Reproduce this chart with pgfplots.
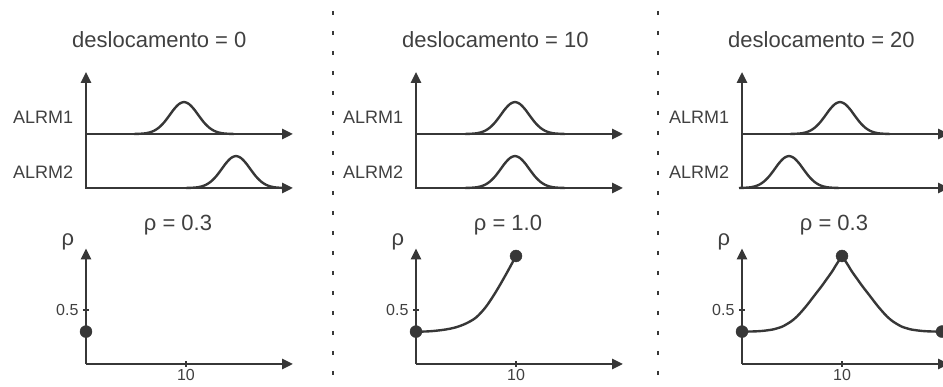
\documentclass[border=0pt]{standalone}
\usepackage{fontspec}
\setmainfont{Liberation Sans}
\usepackage{pgfplots}
\pgfplotsset{compat=1.18}
\usepackage{pgfplotstable}
\usetikzlibrary{arrows.meta}
\definecolor{lc}{RGB}{55,55,55}
\definecolor{tc}{RGB}{64,64,64}

% Gaussian alarm pulse shape (offset from centre, height)
\pgfplotstableread{
d g
-5 0
-4.5 0.2
-4 0.5
-3.5 1.4
-3 3.2
-2.5 6.5
-2 11.5
-1.5 18.0
-1 24.8
-0.5 30.0
0 32
0.5 30.0
1 24.8
1.5 18.0
2 11.5
2.5 6.5
3 3.2
3.5 1.4
4 0.5
4.5 0.2
5 0
}\pulse

% rho curve for shift = 10
\pgfplotstableread{
x r
0 0.300
1 0.301
2 0.308
3 0.320
4 0.340
5 0.375
6 0.430
7 0.530
8 0.670
9 0.830
10 1.000
}\rhoten

% rho curve for shift = 20 (left half; right half mirrored about 10)
\pgfplotstableread{
x r
0 0.300
1 0.301
2 0.306
3 0.318
3.5 0.330
4 0.345
4.5 0.370
5 0.400
5.5 0.440
6 0.490
6.5 0.545
7 0.605
7.5 0.665
8 0.725
8.5 0.790
9 0.855
9.5 0.930
10 1.000
}\rhotwenty

\pgfplotsset{
  ln/.style={line width=2.4pt, draw=lc, smooth},
  axl/.style={line width=2.6pt, draw=lc, line join=miter, >={Triangle[length=11pt,width=10pt]}},
  dot/.style={only marks, mark=*, mark size=6pt, mark options={fill=lc, draw=lc}},
  topax/.style={scale only axis, width=207pt, height=116pt,
    xmin=0, xmax=20.7, ymin=0, ymax=116, hide axis, clip=false, anchor=south west},
  botax/.style={scale only axis, width=207pt, height=115.56pt,
    xmin=0, xmax=20.7, ymin=0, ymax=1.07, clip=false, anchor=south west,
    axis lines=left,
    axis line style={line width=2.6pt, draw=lc, -{Triangle[length=11pt,width=10pt]}},
    xtick={10}, ytick={0.5}, xticklabels={10}, yticklabels={0.5},
    tick align=center, major tick length=6pt,
    tick style={line width=1.8pt, draw=lc},
    tick label style={font=\fontsize{16}{16}\selectfont, text=tc},
    yticklabel style={xshift=-1pt},
    xticklabel style={yshift=1pt}},
}
\tikzset{tt/.style={text=tc, inner sep=0pt},
  f22/.style={font=\fontsize{22}{22}\selectfont},
  f18/.style={font=\fontsize{18}{18}\selectfont}}

\begin{document}
\begin{tikzpicture}
\useasboundingbox (0,0) rectangle (943pt,387pt);

% canvas axis: separators and texts
\begin{axis}[at={(0,0)}, anchor=south west, scale only axis, width=943pt, height=387pt,
  xmin=0, xmax=943, ymin=0, ymax=387, hide axis, clip=false]
\addplot[line width=2.5pt, draw=lc, dash pattern=on 4pt off 16pt] coordinates {(333,376) (333,0)};
\addplot[line width=2.5pt, draw=lc, dash pattern=on 4pt off 16pt] coordinates {(658,376) (658,0)};
% panel 1
\node[tt, f22, anchor=west] at (axis cs:72,347) {deslocamento = 0};
\node[tt, f18, anchor=west] at (axis cs:13,270) {ALRM1};
\node[tt, f18, anchor=west] at (axis cs:13,215) {ALRM2};
\node[tt, f22] at (axis cs:178,162) {ρ = 0.3};
\node[tt, f22] at (axis cs:68,145) {ρ};
% panel 2
\node[tt, f22, anchor=west] at (axis cs:402,347) {deslocamento = 10};
\node[tt, f18, anchor=west] at (axis cs:343,270) {ALRM1};
\node[tt, f18, anchor=west] at (axis cs:343,215) {ALRM2};
\node[tt, f22] at (axis cs:508,162) {ρ = 1.0};
\node[tt, f22] at (axis cs:398,145) {ρ};
% panel 3
\node[tt, f22, anchor=west] at (axis cs:728,347) {deslocamento = 20};
\node[tt, f18, anchor=west] at (axis cs:669,270) {ALRM1};
\node[tt, f18, anchor=west] at (axis cs:669,215) {ALRM2};
\node[tt, f22] at (axis cs:834,162) {ρ = 0.3};
\node[tt, f22] at (axis cs:724,145) {ρ};
\end{axis}

% ---------- panel 1 : deslocamento = 0 ----------
\begin{axis}[topax, at={(86pt,199pt)}]
\addplot[axl, <->] coordinates {(0,116) (0,0) (20.7,0)};
\addplot[axl, ->] coordinates {(0,54) (20.7,54)};
\addplot[ln] table[x expr=\thisrow{d}+9.8, y expr=\thisrow{g}+54] {\pulse};
\addplot[ln] table[x expr=\thisrow{d}+15, y=g] {\pulse};
\end{axis}
\begin{axis}[botax, at={(86pt,23pt)}]
\addplot[dot] coordinates {(0,0.3)};
\end{axis}

% ---------- panel 2 : deslocamento = 10 ----------
\begin{axis}[topax, at={(416pt,199pt)}]
\addplot[axl, <->] coordinates {(0,116) (0,0) (20.7,0)};
\addplot[axl, ->] coordinates {(0,54) (20.7,54)};
\addplot[ln] table[x expr=\thisrow{d}+9.9, y expr=\thisrow{g}+54] {\pulse};
\addplot[ln] table[x expr=\thisrow{d}+9.9, y=g] {\pulse};
\end{axis}
\begin{axis}[botax, at={(416pt,23pt)}]
\addplot[ln] table[x=x, y=r] {\rhoten};
\addplot[dot] coordinates {(0,0.3) (10,1.0)};
\end{axis}

% ---------- panel 3 : deslocamento = 20 ----------
\begin{axis}[topax, at={(742pt,199pt)}]
\addplot[axl, <->] coordinates {(0,116) (0,0) (20.7,0)};
\addplot[axl, ->] coordinates {(0,54) (20.7,54)};
\addplot[ln] table[x expr=\thisrow{d}+9.8, y expr=\thisrow{g}+54] {\pulse};
\addplot[ln] table[x expr=\thisrow{d}+4.7, y=g] {\pulse};
\end{axis}
\begin{axis}[botax, at={(742pt,23pt)}]
\addplot[ln] table[x=x, y=r] {\rhotwenty};
\addplot[ln] table[x expr=20-\thisrow{x}, y=r] {\rhotwenty};
\addplot[dot] coordinates {(0,0.3) (10,1.0) (20,0.3)};
\end{axis}
\end{tikzpicture}
\end{document}
